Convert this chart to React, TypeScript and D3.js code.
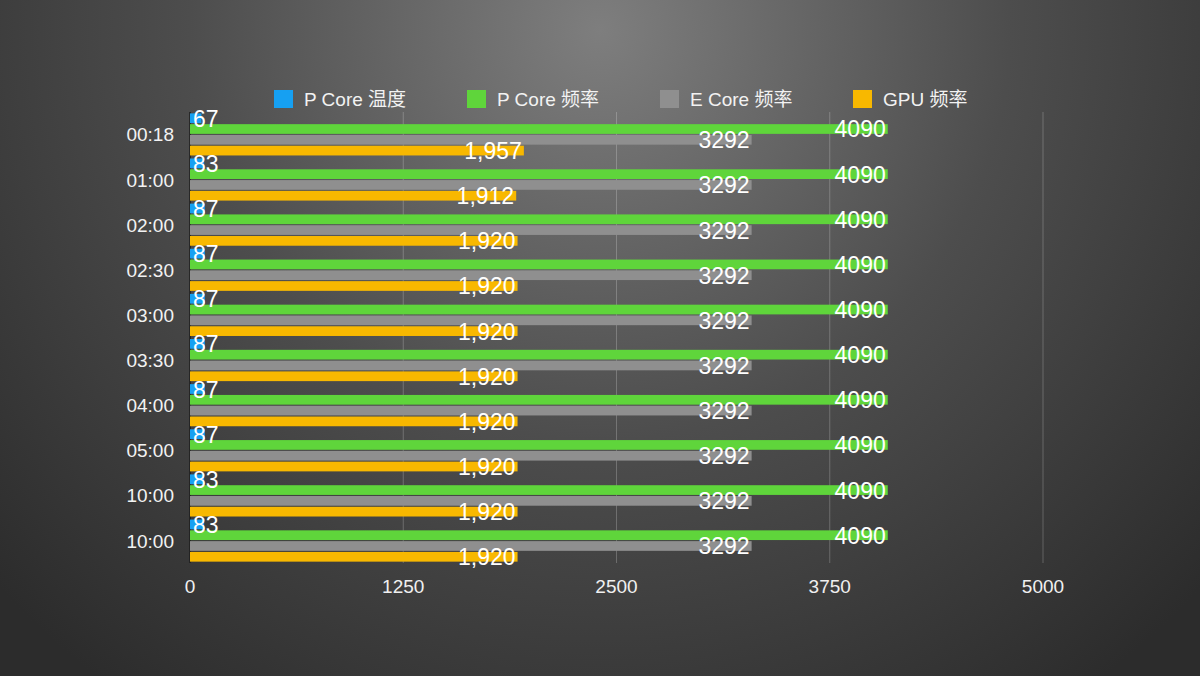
import React, { useEffect } from 'react';
import * as d3 from 'd3';

// 시간대 (카테고리)
const categories = ['00:18', '01:00', '02:00', '02:30', '03:00', '03:30', '04:00', '05:00', '10:00', '10:00'];

// 시리즈 값
const pCoreTemp = [67, 83, 87, 87, 87, 87, 87, 87, 83, 83];
const pCoreFreq = [4090, 4090, 4090, 4090, 4090, 4090, 4090, 4090, 4090, 4090];
const eCoreFreq = [3292, 3292, 3292, 3292, 3292, 3292, 3292, 3292, 3292, 3292];
const gpuFreq = [1957, 1912, 1920, 1920, 1920, 1920, 1920, 1920, 1920, 1920];

const xTicks = [0, 1250, 2500, 3750, 5000];

const seriesNames = ['P Core 温度', 'P Core 频率', 'E Core 频率', 'GPU 频率'];
const seriesColors = ['#16a0f2', '#5fd53b', '#8f8f8f', '#f8b800'];

const FONT = '"Liberation Sans", Arial, "Noto Sans CJK SC", sans-serif';

export default function App() {
  useEffect(() => {
    document.body.style.margin = '0';
  }, []);

  const width = 1200;
  const height = 676;
  const top = 112;
  const bottom = 563;

  const x = d3.scaleLinear().domain([0, 5000]).range([190, 1043]);
  const y = d3
    .scaleBand<number>()
    .domain(d3.range(categories.length))
    .range([top, bottom])
    .paddingInner(0.067)
    .paddingOuter(0.03);
  const sub = d3
    .scaleBand<number>()
    .domain(d3.range(4))
    .range([0, y.bandwidth()])
    .paddingInner(0.1);

  const series = [pCoreTemp, pCoreFreq, eCoreFreq, gpuFreq];
  const fmt = [d3.format('d'), d3.format('d'), d3.format('d'), d3.format(',')];

  return (
    <svg width={width} height={height} style={{ display: 'block' }} fontFamily={FONT}>
      <defs>
        <radialGradient id="bg" gradientUnits="userSpaceOnUse" cx={600} cy={30} r={820}>
          <stop offset="0" stopColor="#7e7e7e" />
          <stop offset="0.5" stopColor="#4d4d4d" />
          <stop offset="1" stopColor="#2c2c2c" />
        </radialGradient>
      </defs>
      <rect width={width} height={height} fill="url(#bg)" />

      {/* 범례 */}
      {seriesNames.map((name, i) => (
        <g key={name} transform={`translate(${274 + i * 193}, 90)`}>
          <rect width={19} height={18} fill={seriesColors[i]} />
          <text x={30} y={16} fontSize={19} fill="#f2f2f2">
            {name}
          </text>
        </g>
      ))}

      {/* 그리드 */}
      {xTicks.slice(1).map((t) => (
        <line key={t} x1={x(t)} x2={x(t)} y1={top} y2={bottom} stroke="rgba(255,255,255,0.22)" strokeWidth={1} />
      ))}
      <line x1={x(0)} x2={x(0)} y1={top} y2={bottom} stroke="#1c1c1c" strokeWidth={1.5} />

      {/* x축 눈금 */}
      {xTicks.map((t) => (
        <text key={t} x={x(t)} y={593} textAnchor="middle" fontSize={19} fill="#f0f0f0">
          {t}
        </text>
      ))}

      {/* 카테고리 라벨 */}
      {categories.map((c, i) => (
        <text
          key={i}
          x={174}
          y={(y(i) as number) + y.bandwidth() / 2 + 7}
          textAnchor="end"
          fontSize={19}
          fill="#f2f2f2">
          {c}
        </text>
      ))}

      {/* 막대 */}
      {categories.map((_, i) => (
        <g key={i} transform={`translate(0, ${y(i)})`}>
          {series.map((vals, s) => {
            const by = sub(s) as number;
            const v = vals[i];
            return (
              <rect key={s} x={x(0)} y={by} width={x(v) - x(0)} height={sub.bandwidth()} fill={seriesColors[s]} />
            );
          })}
        </g>
      ))}

      {/* 값 라벨 */}
      {categories.map((_, i) => (
        <g key={i} transform={`translate(0, ${y(i)})`}>
          {series.map((vals, s) => {
            const cy = (sub(s) as number) + sub.bandwidth() / 2;
            const v = vals[i];
            const first = s === 0;
            return (
              <text
                key={s}
                x={first ? x(0) + 3 : x(v) - 2}
                y={cy + 8.5}
                textAnchor={first ? 'start' : 'end'}
                fontSize={23}
                fill="#ffffff">
                {fmt[s](v)}
              </text>
            );
          })}
        </g>
      ))}
    </svg>
  );
}
